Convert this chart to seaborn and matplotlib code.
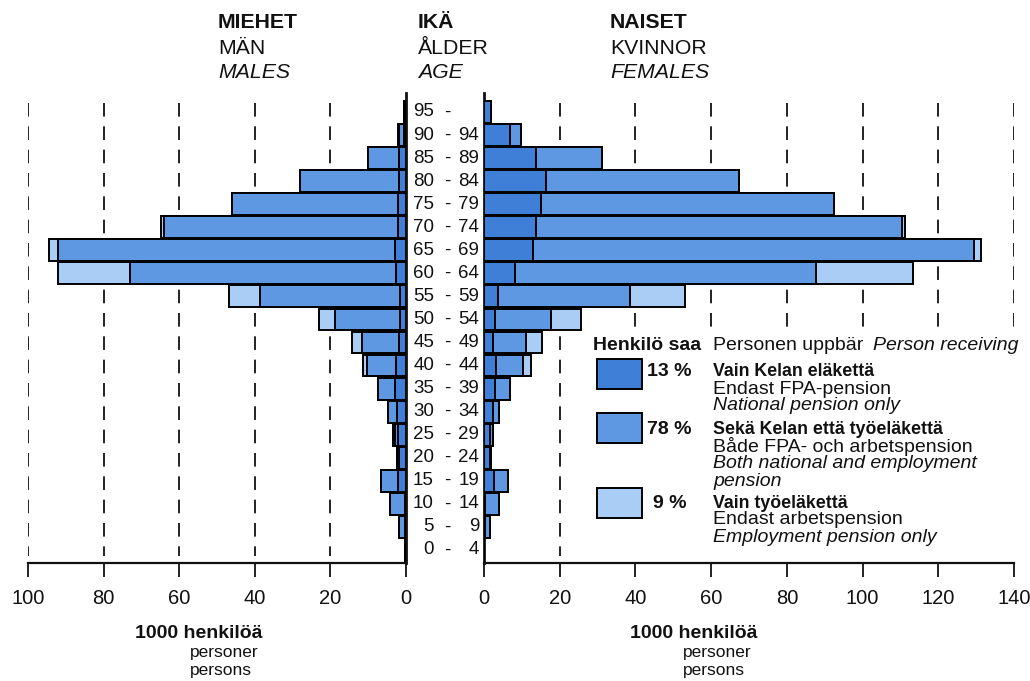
import matplotlib
matplotlib.use("Agg")
import matplotlib.pyplot as plt
import matplotlib.patches as mpatches
import matplotlib.transforms as mtransforms
import seaborn as sns
import pandas as pd

# ---------------- data (top row = oldest) ----------------
age_start = ["95", "90", "85", "80", "75", "70", "65", "60", "55", "50",
             "45", "40", "35", "30", "25", "20", "15", "10", "5", "0"]
age_end = ["", "94", "89", "84", "79", "74", "69", "64", "59", "54",
           "49", "44", "39", "34", "29", "24", "19", "14", "9", "4"]

# thousands of persons: national pension only / both / employment pension only
male_national = [0.3, 0.6, 1.9, 1.9, 2.1, 2.1, 2.9, 2.6, 1.6, 1.6,
                 1.9, 2.6, 2.9, 2.4, 2.1, 1.9, 2.1, 0.3, 0.3, 0.3]
male_both = [0.3, 1.3, 8.1, 26.1, 43.9, 61.9, 89.2, 70.4, 37.0, 17.2,
             9.7, 7.7, 4.5, 2.4, 0.9, 0.5, 4.5, 3.9, 1.6, 0.0]
male_employment = [0.0, 0.3, 0.0, 0.0, 0.0, 0.8, 2.3, 19.1, 8.2, 4.2,
                   2.7, 1.1, 0.0, 0.0, 0.4, 0.0, 0.0, 0.0, 0.0, 0.0]

female_national = [1.8, 6.8, 13.7, 16.3, 15.1, 13.8, 13.0, 8.3, 3.6, 2.8,
                   2.4, 3.3, 2.8, 2.4, 1.5, 1.7, 2.6, 0.3, 0.3, 0.0]
female_both = [0.0, 3.1, 17.5, 51.0, 77.3, 96.5, 116.4, 79.3, 35.0, 14.8,
               8.6, 7.0, 4.0, 1.6, 0.9, 0.2, 3.7, 3.7, 1.2, 0.0]
female_employment = [0.0, 0.0, 0.0, 0.0, 0.0, 0.8, 1.8, 25.6, 14.6, 8.1,
                     4.4, 2.0, 0.0, 0.0, 0.0, 0.0, 0.0, 0.0, 0.0, 0.0]

left_ticks = [0, 20, 40, 60, 80, 100]
right_ticks = [0, 20, 40, 60, 80, 100, 120, 140]
legend_pct = ["13 %", "78 %", "9 %"]

# ---------------- style ----------------
sns.set_theme(style="white")
plt.rcParams["font.family"] = ["Liberation Sans", "DejaVu Sans"]

C_DARK = "#3f7fd8"
C_MED = "#5e98e2"
C_LIGHT = "#a9cdf4"

W, H = 1030, 681
fig = plt.figure(figsize=(W / 100, H / 100), dpi=100)
fig.patch.set_facecolor("white")


def fx(x):
    return x / W


def fy(y):
    return 1 - y / H


AX_TOP, AX_BOT = 93, 563
axL = fig.add_axes([fx(28), fy(AX_BOT), (406 - 28) / W, (AX_BOT - AX_TOP) / H])
axR = fig.add_axes([fx(484), fy(AX_BOT), (1014 - 484) / W, (AX_BOT - AX_TOP) / H])

labels = [f"{a}-{b}" for a, b in zip(age_start, age_end)]


def draw_side(ax, nat, both, emp):
    df = pd.DataFrame({
        "age": labels,
        "total": [n + b + e for n, b, e in zip(nat, both, emp)],
        "nb": [n + b for n, b in zip(nat, both)],
        "nat": nat,
    })
    for col, colr in (("total", C_LIGHT), ("nb", C_MED), ("nat", C_DARK)):
        sns.barplot(data=df, x=col, y="age", order=labels, orient="h",
                    color=colr, saturation=1, width=0.95, errorbar=None,
                    edgecolor="black", linewidth=1.4, ax=ax, zorder=3)


draw_side(axL, male_national, male_both, male_employment)
draw_side(axR, female_national, female_both, female_employment)

row_h = 23.05
y_top = (AX_TOP - 112) / row_h
y_bot = (AX_BOT - 112) / row_h
dash_top = (103 - 112) / row_h
dash_bot = (556 - 112) / row_h

for ax, ticks, lim in ((axL, left_ticks, (100, 0)), (axR, right_ticks, (0, 140))):
    ax.set_ylim(y_bot, y_top)
    ax.set_xlim(*lim)
    ax.set_xlabel("")
    ax.set_ylabel("")
    ax.set_yticks([])
    ax.set_xticks(ticks)
    ax.set_xticklabels([str(t) for t in ticks], fontsize=14.5)
    ax.tick_params(axis="x", direction="out", length=10, width=1.4,
                   color="#222222", pad=9, labelcolor="#111111", bottom=True)
    ax.vlines([t for t in ticks if t != 0], dash_top, dash_bot, colors="#222222",
              linewidth=1.4, linestyles=(0, (7, 5)), zorder=1)
    ax.set_facecolor("none")
    for s in ax.spines.values():
        s.set_visible(False)
    ax.spines["bottom"].set_visible(True)
    ax.spines["bottom"].set_linewidth(1.6)
    ax.spines["bottom"].set_color("#111111")

axL.spines["right"].set_visible(True)
axL.spines["right"].set_linewidth(2.0)
axL.spines["right"].set_color("#111111")
axR.spines["left"].set_visible(True)
axR.spines["left"].set_linewidth(2.0)
axR.spines["left"].set_color("#111111")

# age labels
tr = mtransforms.blended_transform_factory(fig.transFigure, axL.transData)
for i, (a, b) in enumerate(zip(age_start, age_end)):
    axL.text(fx(434), i, a, transform=tr, ha="right", va="center", fontsize=13.5,
             color="#111111", clip_on=False)
    axL.text(fx(447), i, "-", transform=tr, ha="center", va="center", fontsize=13.5,
             color="#111111", clip_on=False)
    if b:
        axL.text(fx(479), i, b, transform=tr, ha="right", va="center", fontsize=13.5,
                 color="#111111", clip_on=False)

# headers
TXT = "#111111"
HS = 15.3
for x, lines in ((218, ("MIEHET", "MÄN", "MALES")),
                 (418, ("IKÄ", "ÅLDER", "AGE")),
                 (610, ("NAISET", "KVINNOR", "FEMALES"))):
    fig.text(fx(x), fy(23), lines[0], fontsize=HS, fontweight="bold", va="center", color=TXT)
    fig.text(fx(x), fy(48), lines[1], fontsize=HS, va="center", color=TXT)
    fig.text(fx(x), fy(73), lines[2], fontsize=HS, style="italic", va="center", color=TXT)

# unit labels
for x0, x1 in ((135, 190), (630, 683)):
    fig.text(fx(x0), fy(634), "1000 henkilöä", fontsize=14, fontweight="bold",
             va="center", color=TXT)
    fig.text(fx(x1), fy(652), "personer", fontsize=12.5, va="center", color=TXT)
    fig.text(fx(x1), fy(671), "persons", fontsize=12.5, va="center", color=TXT)

# legend
fig.patches.append(mpatches.Rectangle((fx(588), fy(560)), (1030 - 588) / W, (560 - 330) / H,
                                      transform=fig.transFigure, facecolor="white",
                                      edgecolor="none", zorder=1))
LB = 12.8   # bold legend lines
LN = 14.0   # normal / italic legend lines
fig.text(fx(593), fy(346), "Henkilö saa", fontsize=14, fontweight="bold", va="center", color=TXT)
fig.text(fx(713), fy(346), "Personen uppbär", fontsize=LN, va="center", color=TXT)
fig.text(fx(873), fy(346), "Person receiving", fontsize=LN, style="italic", va="center", color=TXT)

items = [
    (C_DARK, 359, legend_pct[0], 647, 372,
     [("Vain Kelan eläkettä", "bold"), ("Endast FPA-pension", "normal"),
      ("National pension only", "italic")]),
    (C_MED, 413, legend_pct[1], 647, 430,
     [("Sekä Kelan että työeläkettä", "bold"), ("Både FPA- och arbetspension", "normal"),
      ("Both national and employment", "italic"), ("pension", "italic")]),
    (C_LIGHT, 488, legend_pct[2], 653, 503,
     [("Vain työeläkettä", "bold"), ("Endast arbetspension", "normal"),
      ("Employment pension only", "italic")]),
]
for colr, by, pct, px, ty, lines in items:
    fig.patches.append(mpatches.Rectangle((fx(597), fy(by + 30)), 45 / W, 30 / H,
                                          transform=fig.transFigure, facecolor=colr,
                                          edgecolor="black", linewidth=1.4, zorder=2))
    fig.text(fx(px), fy(ty), pct, fontsize=14, fontweight="bold", va="center", color=TXT)
    for k, (t, st) in enumerate(lines):
        if st == "bold":
            kw = {"fontweight": "bold", "fontsize": LB}
        elif st == "italic":
            kw = {"style": "italic", "fontsize": LN}
        else:
            kw = {"fontsize": LN}
        fig.text(fx(713), fy(ty + k * 17), t, va="center", color=TXT, **kw)

fig.savefig("out.png", dpi=100, facecolor="white")
